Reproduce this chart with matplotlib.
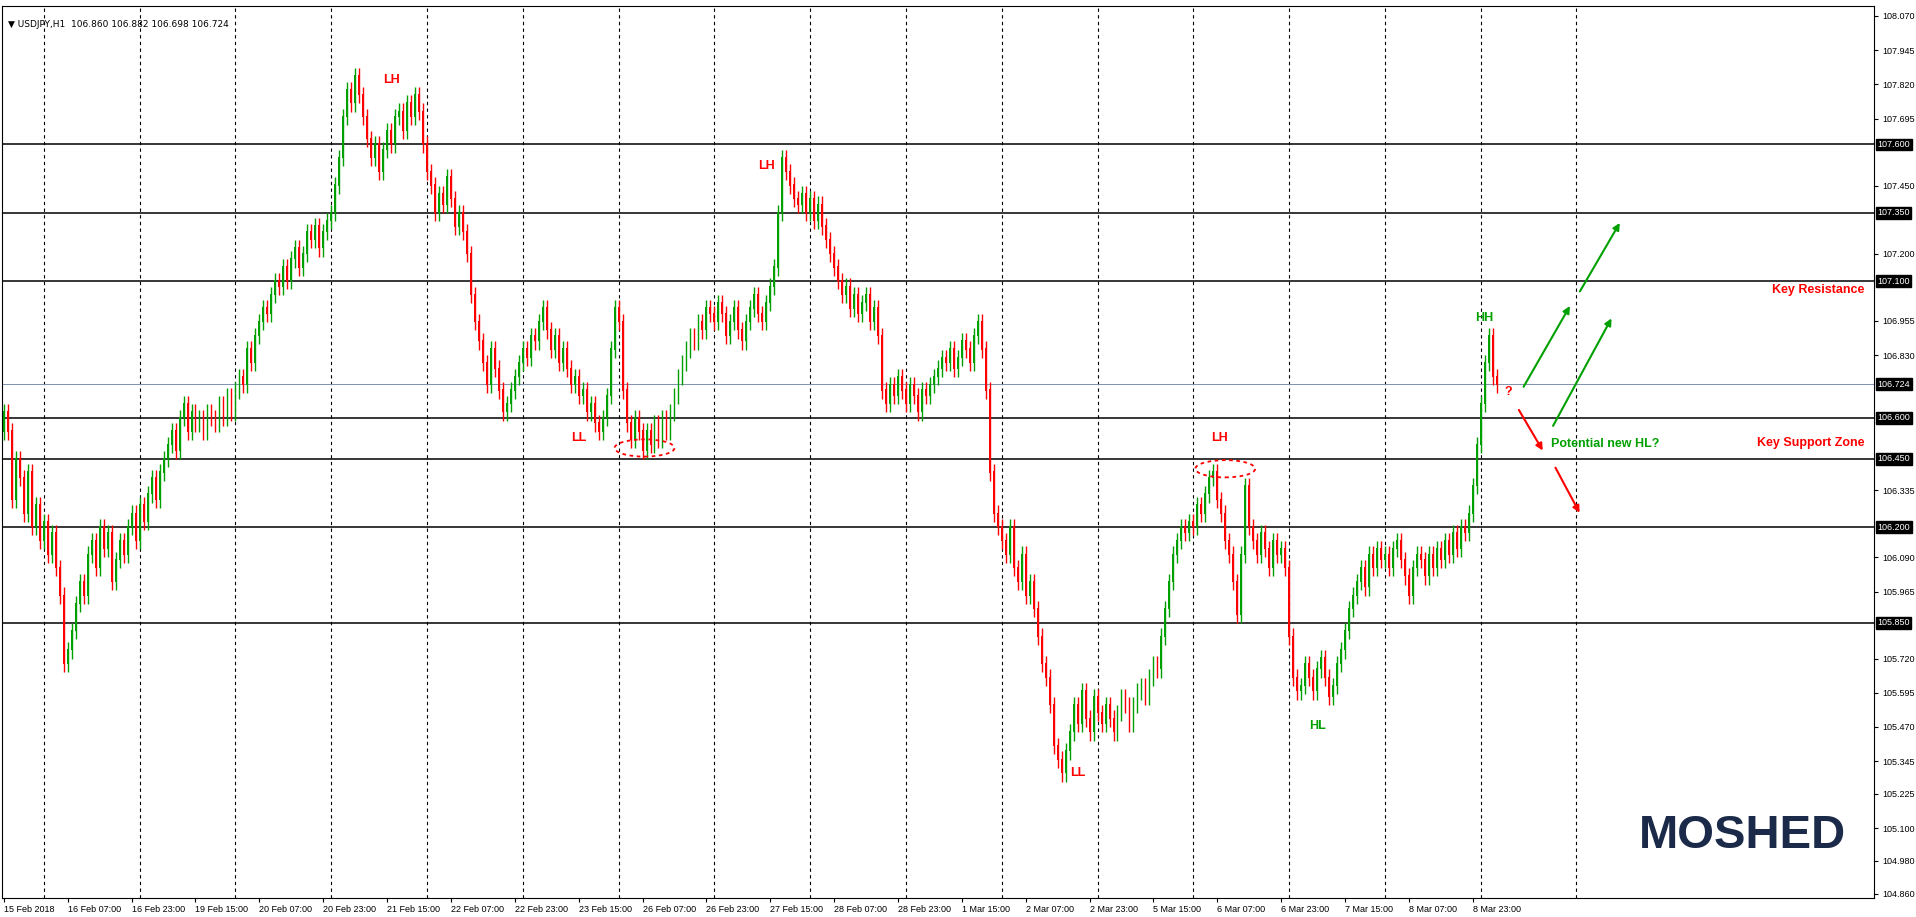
import matplotlib.pyplot as plt
import numpy as np
from matplotlib.patches import Ellipse

# hourly closes, USDJPY H1, 15 Feb 15:00 -> 9 Mar 02:00
closes = [
    106.62,106.55,106.30,106.45,106.38,106.25,106.40,106.20,106.28,106.15,
    106.22,106.10,106.18,106.05,105.95,105.70,105.75,105.82,105.92,
    106.00,105.95,106.10,106.15,106.05,106.20,106.12,106.18,106.00,106.08,106.15,106.10,
    106.20,106.25,106.15,106.28,106.22,106.32,106.38,106.30,106.40,106.45,
    106.50,106.55,106.48,106.60,106.65,106.55,106.62,106.58,106.60,
    106.55,106.62,106.60,106.58,106.65,106.60,106.68,106.62,106.70,
    106.75,106.72,106.85,106.80,106.90,106.95,107.00,106.98,107.05,107.10,107.08,107.15,
    107.10,107.18,107.22,107.15,107.20,107.28,107.25,107.30,107.22,107.28,107.32,107.35,107.45,
    107.55,107.70,107.80,107.75,107.85,107.78,
    107.70,107.62,107.55,107.60,107.50,107.58,107.65,107.60,107.70,107.72,107.65,107.75,107.70,107.78,107.72,107.60,
    107.50,107.45,107.35,107.42,107.38,107.48,107.40,107.30,107.35,107.28,107.20,107.05,106.95,106.88,
    106.80,106.72,106.85,106.78,106.70,106.62,106.65,106.70,106.75,
    106.80,106.85,106.82,106.90,106.88,106.95,107.00,106.92,106.85,106.90,106.80,106.85,106.78,
    106.72,106.75,106.68,106.70,106.62,106.65,106.58,106.55,106.60,106.68,
    106.85,107.00,106.95,106.70,106.58,
    106.52,106.60,106.55,106.48,106.55,106.50,106.58,106.52,106.60,106.55,106.62,
    106.68,106.75,106.80,106.85,106.90,106.88,106.95,106.92,107.00,106.98,
    106.95,107.02,106.98,106.90,106.95,107.00,106.92,106.88,106.95,107.00,107.05,106.98,106.95,107.02,107.08,107.15,
    107.35,107.55,107.50,
    107.45,107.40,107.38,107.42,107.35,107.40,107.32,107.38,107.30,107.25,107.20,107.15,107.10,107.05,107.08,
    107.00,107.05,106.98,107.02,107.05,106.95,107.00,106.90,
    106.70,106.65,106.72,106.68,106.75,106.70,106.65,106.72,106.68,106.62,106.70,106.68,106.72,
    106.75,106.78,106.82,106.80,106.85,106.78,106.82,106.88,106.85,106.80,106.90,106.95,106.85,
    106.70,106.40,106.25,106.20,
    106.15,106.10,106.20,106.05,106.00,106.10,105.95,106.00,
    105.90,105.80,105.70,105.65,105.55,105.40,105.35,105.30,105.38,
    105.45,105.55,105.48,105.60,105.50,105.45,105.58,105.52,105.48,105.55,105.50,105.45,
    105.52,105.58,105.55,105.48,105.55,105.60,105.62,105.58,105.65,105.70,105.68,
    105.80,105.90,106.00,106.10,106.15,106.20,
    106.18,106.22,106.20,106.28,106.25,106.32,106.38,106.40,
    106.30,106.25,106.15,106.10,106.00,105.88,
    106.10,106.35,106.20,
    106.15,106.10,106.18,106.12,106.05,106.15,106.10,106.12,106.05,
    105.80,105.65,105.60,
    105.62,105.70,105.65,105.60,105.68,105.72,105.65,105.58,105.62,105.70,105.75,105.82,
    105.90,105.95,106.00,106.05,105.98,106.10,106.05,106.12,106.08,
    106.10,106.05,106.12,106.15,106.08,106.02,105.95,106.05,106.10,106.08,106.02,
    106.10,106.05,106.12,106.08,106.15,106.10,106.18,106.12,106.20,106.18,106.25,
    106.35,106.50,106.65,106.80,106.90,106.75,106.72,
]
first_open = 106.55
wick = 0.03

levels = [107.600, 107.350, 107.100, 106.600, 106.450, 106.200, 105.850]
last_price = 106.724
plain_ticks = [108.070, 107.945, 107.820, 107.695, 107.450, 107.200, 106.955, 106.830,
               106.335, 106.090, 105.965, 105.720, 105.595, 105.470, 105.345, 105.225,
               105.100, 104.980, 104.860]

date_labels = ["15 Feb 2018", "16 Feb 07:00", "16 Feb 23:00", "19 Feb 15:00", "20 Feb 07:00",
               "20 Feb 23:00", "21 Feb 15:00", "22 Feb 07:00", "22 Feb 23:00", "23 Feb 15:00",
               "26 Feb 07:00", "26 Feb 23:00", "27 Feb 15:00", "28 Feb 07:00", "28 Feb 23:00",
               "1 Mar 15:00", "2 Mar 07:00", "2 Mar 23:00", "5 Mar 15:00", "6 Mar 07:00",
               "6 Mar 23:00", "7 Mar 15:00", "8 Mar 07:00", "8 Mar 23:00"]

plt.rcParams['font.family'] = ['Liberation Sans', 'DejaVu Sans']
fig = plt.figure(figsize=(19.16, 9.17), dpi=100)
ax = fig.add_axes([0.001, 0.021, 0.977, 0.972])

c = np.array(closes)
o = np.concatenate([[first_open], c[:-1]])
hi = np.maximum(o, c) + wick
lo = np.minimum(o, c) - wick
x = np.arange(len(c))
up = c >= o
green, red = '#00a000', '#ff0000'
cols = np.where(up, green, red)
ax.vlines(x, lo, hi, colors=cols, linewidth=1, zorder=3)
ax.bar(x, np.abs(c - o) + 0.004, bottom=np.minimum(o, c), width=0.45, color=cols, zorder=3)

for lv in levels:
    ax.axhline(lv, color='black', linewidth=1.1, zorder=2)
ax.axhline(last_price, color='#8090b0', linewidth=0.7, zorder=2)
for k in range(17):
    ax.axvline(10 + 24 * k, color='black', linestyle=(0, (3, 3)), linewidth=0.8, zorder=1)

ax.set_xlim(-0.5, 468.5)
ax.set_ylim(104.845, 108.105)
ax.set_xticks(np.arange(len(date_labels)) * 16)
ax.set_xticklabels(date_labels, fontsize=6.5, ha='left')
ax.tick_params(axis='x', length=3, pad=2)
ax.yaxis.tick_right()
ax.set_yticks(plain_ticks)
ax.set_yticklabels([f"{v:.3f}" for v in plain_ticks], fontsize=6.5)
ax.tick_params(axis='y', length=3, pad=3)
for lv in levels + [last_price]:
    ax.text(1.002, lv, f"{lv:.3f}", transform=ax.get_yaxis_transform(), fontsize=6.5,
            color='white', va='center', ha='left',
            bbox=dict(boxstyle='square,pad=0.15', fc='black', ec='black'))

ax.text(0.003, 0.985, "\u25bc USDJPY,H1  106.860 106.882 106.698 106.724", transform=ax.transAxes,
        fontsize=6.5, va='top', family=['DejaVu Sans'])

kw = dict(fontsize=9, fontweight='bold', ha='center', va='center')
ax.text(97, 107.837, "LH", color=red, **kw)
ax.text(191, 107.52, "LH", color=red, **kw)
ax.text(144, 106.525, "LL", color=red, **kw)
ax.text(304.6, 106.525, "LH", color=red, **kw)
ax.text(269, 105.30, "LL", color=red, **kw)
ax.text(329, 105.474, "HL", color=green, **kw)
ax.text(371, 106.965, "HH", color=green, **kw)
ax.text(377, 106.696, "?", color=red, **kw)
ax.text(387.5, 106.503, "Potential new HL?", color=green, fontsize=9, fontweight='bold', va='center')
ax.text(0.995, 107.067, "Key Resistance", color=red, fontsize=9, fontweight='bold',
        ha='right', va='center', transform=ax.get_yaxis_transform())
ax.text(0.995, 106.508, "Key Support Zone", color=red, fontsize=9, fontweight='bold',
        ha='right', va='center', transform=ax.get_yaxis_transform())

for (cx, cy) in [(160.5, 106.49), (306, 106.414)]:
    ax.add_patch(Ellipse((cx, cy), 15, 0.063, fill=False, edgecolor=red,
                         linestyle=(0, (2, 2)), linewidth=1.3, zorder=4))

arrows = [((379.2, 106.638), (385.9, 106.472), red),
          ((388.4, 106.427), (395.1, 106.244), red),
          ((380.4, 106.705), (392.7, 107.018), green),
          ((387.8, 106.562), (403.1, 106.973), green),
          ((394.5, 107.054), (405.2, 107.322), green)]
for s, e, col in arrows:
    ax.annotate("", xy=e, xytext=s,
                arrowprops=dict(arrowstyle='-|>', color=col, lw=1.5, mutation_scale=10))

ax.text(0.985, 0.045, "MOSHED", transform=ax.transAxes, fontsize=34, fontweight='bold',
        color='#1b2a48', ha='right', va='bottom')

for sp in ax.spines.values():
    sp.set_linewidth(0.8)

fig.savefig("out.png", dpi=100)
